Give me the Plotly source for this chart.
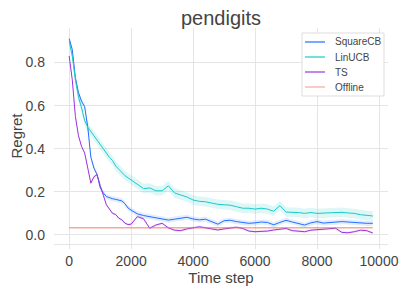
import plotly.graph_objects as go

steps = [0, 100, 200, 300, 400, 500, 600, 700, 800, 900, 1000, 1100, 1200, 1300, 1400,
         1500, 1600, 1700, 1800, 1900, 2000, 2200, 2400, 2600, 2800, 3000, 3200, 3400,
         3600, 3800, 4000, 4200, 4400, 4600, 4800, 5000, 5200, 5400, 5600, 5800, 6000,
         6200, 6400, 6600, 6800, 7000, 7200, 7400, 7600, 7800, 8000, 8200, 8400, 8600,
         8800, 9000, 9200, 9400, 9600, 9800]

squarecb = [0.91, 0.86, 0.73, 0.66, 0.62, 0.595, 0.50, 0.36, 0.31, 0.28, 0.22, 0.195,
            0.178, 0.172, 0.168, 0.165, 0.162, 0.158, 0.145, 0.125, 0.115, 0.098, 0.090,
            0.085, 0.080, 0.076, 0.069, 0.073, 0.077, 0.082, 0.074, 0.070, 0.073, 0.062,
            0.050, 0.066, 0.068, 0.062, 0.058, 0.054, 0.056, 0.060, 0.058, 0.047, 0.058,
            0.068, 0.060, 0.052, 0.046, 0.056, 0.062, 0.055, 0.058, 0.062, 0.062, 0.060,
            0.057, 0.055, 0.054, 0.054]

linucb = [0.90, 0.83, 0.72, 0.64, 0.59, 0.53, 0.50, 0.48, 0.455, 0.44, 0.415, 0.40,
          0.375, 0.36, 0.345, 0.32, 0.305, 0.29, 0.275, 0.265, 0.255, 0.232, 0.215, 0.218,
          0.205, 0.205, 0.228, 0.195, 0.185, 0.176, 0.162, 0.156, 0.154, 0.148, 0.142,
          0.140, 0.138, 0.131, 0.124, 0.124, 0.120, 0.124, 0.120, 0.110, 0.136, 0.106,
          0.106, 0.104, 0.100, 0.104, 0.100, 0.102, 0.103, 0.104, 0.105, 0.102, 0.100,
          0.094, 0.090, 0.088]

ts = [0.83, 0.72, 0.55, 0.46, 0.41, 0.38, 0.31, 0.24, 0.27, 0.28, 0.23, 0.18, 0.14,
      0.12, 0.10, 0.095, 0.078, 0.07, 0.055, 0.048, 0.050, 0.085, 0.075, 0.031, 0.046,
      0.054, 0.033, 0.022, 0.020, 0.028, 0.033, 0.038, 0.033, 0.028, 0.023, 0.028,
      0.031, 0.036, 0.030, 0.018, 0.015, 0.015, 0.018, 0.023, 0.028, 0.030, 0.020,
      0.018, 0.015, 0.022, 0.024, 0.026, 0.028, 0.031, 0.012, 0.010, 0.015, 0.022,
      0.020, 0.009]

offline = [0.033] * len(steps)

x_tick_vals = [0, 2000, 4000, 6000, 8000, 10000]
x_tick_text = ["0", "2000", "4000", "6000", "8000", "10000"]
y_tick_vals = [0, 0.2, 0.4, 0.6, 0.8]

band_halfwidth = {"SquareCB": 0.012, "LinUCB": 0.022, "TS": 0.006}

series = [
    ("SquareCB", squarecb, "#1f6fff", "rgba(31,111,255,0.12)"),
    ("LinUCB", linucb, "#1cc8c8", "rgba(28,200,200,0.15)"),
    ("TS", ts, "#9b34e0", "rgba(155,52,224,0.12)"),
]
offline_color = "rgba(240,110,90,0.6)"

fig = go.Figure()
for name, vals, col, fcol in series:
    hw = band_halfwidth[name]
    upper = [v + hw for v in vals]
    lower = [max(v - hw, 0) for v in vals]
    fig.add_trace(go.Scatter(x=steps, y=upper, mode="lines", line=dict(width=0),
                             showlegend=False, hoverinfo="skip"))
    fig.add_trace(go.Scatter(x=steps, y=lower, mode="lines", line=dict(width=0),
                             fill="tonexty", fillcolor=fcol, showlegend=False,
                             hoverinfo="skip"))

for name, vals, col, fcol in series:
    fig.add_trace(go.Scatter(x=steps, y=vals, mode="lines", name=name,
                             line=dict(color=col, width=1), showlegend=False))

fig.add_trace(go.Scatter(x=steps, y=offline, mode="lines", name="Offline",
                         line=dict(color=offline_color, width=1.5), showlegend=False))

# The page body has an 8px default margin, so the figure is 8px smaller
# and all page-pixel positions are shifted by 8.
OFF = 8
W, H = 408 - OFF, 290 - OFF
L, R, T, B = 46, 20, 20, 46
pw, ph = W - L - R, H - T - B


def px(xp):
    return (xp - OFF - L) / pw


def py(yp):
    return (H - B - (yp - OFF)) / ph


fig.add_shape(type="rect", xref="paper", yref="paper",
              x0=px(302), x1=px(384), y0=py(96), y1=py(33),
              line=dict(color="#dddddd", width=1), fillcolor="white", layer="above")
legend_items = [(n, c) for n, _, c, _ in series] + [("Offline", offline_color)]
for i, (name, col) in enumerate(legend_items):
    yy = 42 + i * 15
    fig.add_shape(type="line", xref="paper", yref="paper",
                  x0=px(305), x1=px(325), y0=py(yy), y1=py(yy),
                  line=dict(color=col, width=1.2), layer="above")
    fig.add_annotation(text=name, xref="paper", yref="paper", x=px(333), y=py(yy),
                       xanchor="left", yanchor="middle", showarrow=False,
                       font=dict(size=10, color="#444444"))

grid = "#e5e5e5"
fig.update_layout(
    width=W, height=H,
    margin=dict(l=L, r=R, t=T, b=B),
    paper_bgcolor="white", plot_bgcolor="white",
    font=dict(family="Liberation Sans, Arial, sans-serif", color="#444444", size=14),
    title=dict(text="pendigits", x=0.5, xref="paper", xanchor="center",
               y=1 - 10 / H, yanchor="middle", font=dict(size=20, color="#444444")),
    showlegend=False,
    xaxis=dict(range=[-490, 10290], tickvals=x_tick_vals, ticktext=x_tick_text,
               showgrid=True, gridcolor=grid, zeroline=False, showline=True,
               linecolor=grid, ticks="outside", ticklen=4, tickcolor=grid,
               tickfont=dict(size=14), automargin=False,
               title=dict(text="Time step", font=dict(size=15), standoff=2)),
    yaxis=dict(range=[-0.042, 0.96], tickvals=y_tick_vals,
               tickformat=".1f", showgrid=True, gridcolor=grid, zeroline=False,
               showline=False, ticks="", tickfont=dict(size=14), automargin=False,
               ticklabelstandoff=8,
               title=dict(text="Regret", font=dict(size=15), standoff=4)),
)

fig.write_html("out.html")
